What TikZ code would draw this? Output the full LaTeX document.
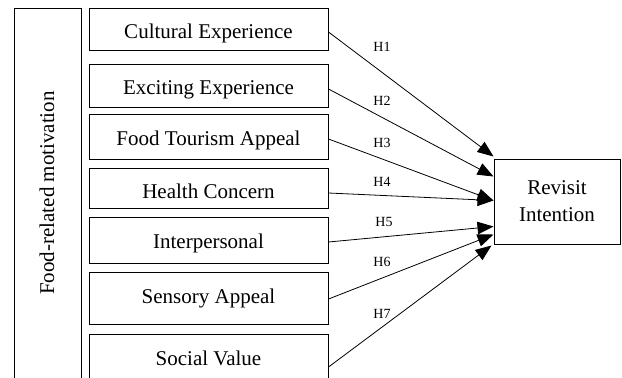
\documentclass[tikz,border=0pt]{standalone}
\usepackage{fontspec}
\setmainfont{Liberation Serif}
\usetikzlibrary{arrows.meta,calc}
\begin{document}
\begin{tikzpicture}[x=1pt,y=-1pt,
  box/.style={draw,line width=1pt,minimum width=239pt,inner sep=0pt,font=\fontsize{21}{25}\selectfont,text height=18pt,text depth=0pt},
  hyp/.style={font=\fontsize{14}{16}\selectfont,inner sep=0pt},
  arr/.style={line width=0.8pt,-{Triangle[length=16pt,width=12.5pt]}}]
\useasboundingbox (0,0) rectangle (622,378);
\clip (0,0) rectangle (622,378);
\node[draw,line width=1pt,minimum width=67pt,minimum height=392pt,inner sep=0pt] (frm) at (47.5,204) {};
\node[rotate=90,font=\fontsize{21}{25}\selectfont,inner sep=0pt] (lab) at (47,193) {Food-related motivation};
\node[box,minimum height=42pt] (c1) at (208.5,29) {Cultural Experience};
\node[box,minimum height=43pt] (c2) at (208.5,85.5) {Exciting Experience};
\node[box,minimum height=45pt] (c3) at (208.5,136.5) {Food Tourism Appeal};
\node[box,minimum height=40pt,text height=20pt] (c4) at (208.5,188) {Health Concern};
\node[box,minimum height=46pt,text height=16pt] (c5) at (208.5,240) {Interpersonal};
\node[box,minimum height=52pt,text height=10pt] (c6) at (208.5,298) {Sensory Appeal};
\node[box,minimum height=50pt,text height=12pt] (c7) at (208.5,359) {Social Value};
\node[draw,line width=1pt,minimum width=126pt,minimum height=85pt,inner sep=0pt,align=center,font=\fontsize{21}{27}\selectfont] (ri) at (557,201.5) {Revisit\\Intention};
\node[hyp] (h1) at (382,47) {H1};
\node[hyp] (h2) at (382,101) {H2};
\node[hyp] (h3) at (382,143) {H3};
\node[hyp] (h4) at (382,182) {H4};
\node[hyp] (h5) at (384,222) {H5};
\node[hyp] (h6) at (382,262) {H6};
\node[hyp] (h7) at (382,314) {H7};
\draw[arr] ([yshift=-3pt]c1.east) -- ([yshift=2pt]ri.north west);
\draw[arr] ([yshift=-3.5pt]c2.east) -- ([yshift=-18pt]ri.north west);
\draw[arr] ([yshift=-2.5pt]c3.east) -- ([yshift=-42pt]ri.north west);
\draw[arr] ([yshift=-5pt]c4.east) -- ([yshift=-42pt]ri.north west);
\draw[arr] ([yshift=-2pt]c5.east) -- ([yshift=-68pt]ri.north west);
\draw[arr] ([yshift=-1pt]c6.east) -- ([yshift=-76pt]ri.north west);
\draw[arr] ([yshift=-8pt]c7.east) -- ([xshift=-2pt,yshift=-1pt]ri.south west);
\end{tikzpicture}
\end{document}
